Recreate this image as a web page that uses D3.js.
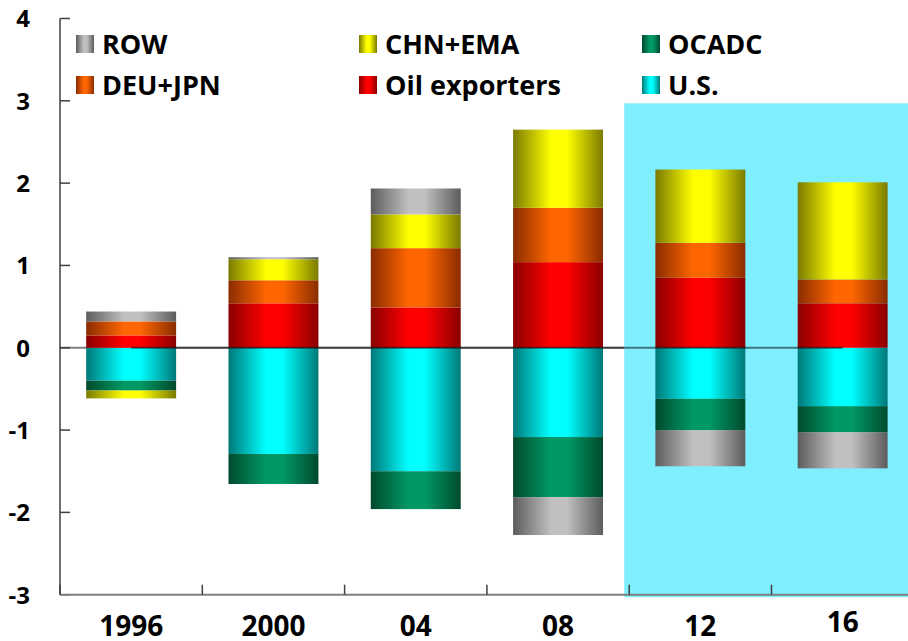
<!DOCTYPE html>
<html>
<head>
<meta charset="utf-8">
<script src="https://cdn.jsdelivr.net/npm/d3@7"></script>
<style>
  html, body { margin: 0; padding: 0; background: #fff; }
  svg { display: block; font-family: "Open Sans", "Liberation Sans", sans-serif; font-weight: 700; }
</style>
</head>
<body>
<svg id="chart" width="908" height="641"></svg>
<script>
// Contributions to global current account balances (% of world GDP)
const categories = ["1996", "2000", "04", "08", "12", "16"];
const us      = [-0.40, -1.29, -1.50, -1.085, -0.62, -0.71];
const oil     = [ 0.15,  0.54,  0.49,  1.04,   0.85,  0.54];
const deuJpn  = [ 0.17,  0.28,  0.72,  0.66,   0.425, 0.29];
const ocadc   = [-0.12, -0.365, -0.46, -0.73,  -0.38, -0.315];
const chnEma  = [-0.095, 0.255, 0.41,  0.95,   0.89,  1.18];
const row     = [ 0.12,  0.025, 0.315, -0.46,  -0.44, -0.44];

const seriesNames = ["U.S.", "Oil exporters", "DEU+JPN", "OCADC", "CHN+EMA", "ROW"];
const legendOrder = ["ROW", "CHN+EMA", "OCADC", "DEU+JPN", "Oil exporters", "U.S."];
const yTicks = [-3, -2, -1, 0, 1, 2, 3, 4];
const projectionStart = "12";   // projected years sit on a shaded panel

const table = categories.map((c, i) => ({
  cat: c,
  "U.S.": us[i], "Oil exporters": oil[i], "DEU+JPN": deuJpn[i],
  "OCADC": ocadc[i], "CHN+EMA": chnEma[i], "ROW": row[i]
}));

// edge / centre colours for the cylinder-style shading
const shades = {
  "U.S.":          ["#007878", "#00ffff"],
  "Oil exporters": ["#8a0000", "#ff0000"],
  "DEU+JPN":       ["#8a2c00", "#ff6600"],
  "OCADC":         ["#004a2c", "#009966"],
  "CHN+EMA":       ["#7a7a00", "#ffff00"],
  "ROW":           ["#5c5c5c", "#c0c0c0"]
};

const svg = d3.select("#chart");
const plotLeft = 60, plotRight = 60 + 6 * 142.3;
const plotTop = 18.5, plotBottom = 594.7;

const x = d3.scaleBand().domain(categories).range([plotLeft, plotRight])
  .paddingInner(0.368).paddingOuter(0.184);
const y = d3.scaleLinear().domain([-3, 4]).range([plotBottom, plotTop]);

const defs = svg.append("defs");
seriesNames.forEach((k, i) => {
  const g = defs.append("linearGradient").attr("id", "grad" + i)
    .attr("x1", "0%").attr("x2", "100%").attr("y1", "0%").attr("y2", "0%");
  g.append("stop").attr("offset", "0%").attr("stop-color", shades[k][0]);
  g.append("stop").attr("offset", "42%").attr("stop-color", shades[k][1]);
  g.append("stop").attr("offset", "60%").attr("stop-color", shades[k][1]);
  g.append("stop").attr("offset", "100%").attr("stop-color", shades[k][0]);
});
const gradId = k => "url(#grad" + seriesNames.indexOf(k) + ")";

// baseline at zero behind everything
svg.append("line")
  .attr("x1", plotLeft).attr("x2", 908).attr("y1", y(0)).attr("y2", y(0))
  .attr("stroke", "#808080").attr("stroke-width", 2);

// shaded projection panel
const step = x.step();
const panelX = x(projectionStart) - x.paddingInner() * step / 2 - 5;
svg.append("rect")
  .attr("x", panelX).attr("y", y(2.97))
  .attr("width", 908 - panelX).attr("height", y(-3.03) - y(2.97))
  .attr("fill", "#7feeff");

// stacked bars
const stacked = d3.stack().keys(seriesNames).offset(d3.stackOffsetDiverging)(table);
svg.append("g").selectAll("g").data(stacked).join("g")
  .attr("fill", d => gradId(d.key))
  .selectAll("rect").data(d => d).join("rect")
  .attr("x", d => x(d.data.cat))
  .attr("width", x.bandwidth())
  .attr("y", d => y(Math.max(d[0], d[1])))
  .attr("height", d => Math.abs(y(d[0]) - y(d[1])));

// zero line drawn across the bars
svg.append("line")
  .attr("x1", x(categories[0]) + x.bandwidth() / 2)
  .attr("x2", x(categories[categories.length - 1]) + x.bandwidth() / 2)
  .attr("y1", y(0)).attr("y2", y(0))
  .attr("stroke", "#000").attr("stroke-opacity", 0.5).attr("stroke-width", 2);

// y axis
const yAxis = svg.append("g");
yAxis.append("line").attr("x1", plotLeft).attr("x2", plotLeft).attr("y1", plotTop).attr("y2", plotBottom)
  .attr("stroke", "#404040").attr("stroke-width", 1.5);
yAxis.selectAll("line.tick").data(yTicks).join("line").attr("class", "tick")
  .attr("x1", plotLeft).attr("x2", plotLeft + 10).attr("y1", d => y(d)).attr("y2", d => y(d))
  .attr("stroke", "#404040").attr("stroke-width", 1.5);
yAxis.selectAll("text").data(yTicks).join("text")
  .attr("x", 30).attr("y", d => y(d)).attr("dy", "0.37em")
  .attr("text-anchor", "end").attr("font-size", 24).attr("fill", "#000")
  .text(d => d);

// x axis along the bottom
const xAxis = svg.append("g");
xAxis.append("line").attr("x1", plotLeft).attr("x2", 908).attr("y1", plotBottom).attr("y2", plotBottom)
  .attr("stroke", "#808080").attr("stroke-width", 2);
const bounds = d3.range(categories.length + 1).map(i => plotLeft + i * step);
xAxis.selectAll("line.tick").data(bounds).join("line").attr("class", "tick")
  .attr("x1", d => d).attr("x2", d => d).attr("y1", plotBottom).attr("y2", plotBottom - 10)
  .attr("stroke", "#404040").attr("stroke-width", 1.5);
xAxis.selectAll("text").data(categories).join("text")
  .attr("x", d => x(d) + x.bandwidth() / 2)
  .attr("y", d => d === "16" ? 632 : 636)
  .attr("text-anchor", "middle").attr("font-size", 28).attr("fill", "#000")
  .text(d => d);

// legend: three columns, two rows
const legX = [76, 359, 642], legY = [35, 76];
const leg = svg.append("g").selectAll("g").data(legendOrder).join("g")
  .attr("transform", (d, i) => `translate(${legX[i % 3]},${legY[Math.floor(i / 3)]})`);
leg.append("rect").attr("width", 18).attr("height", 18).attr("fill", d => gradId(d));
leg.append("text").attr("x", 26).attr("y", 9).attr("dy", "0.36em")
  .attr("font-size", 27).attr("fill", "#000").text(d => d);
</script>
</body>
</html>
